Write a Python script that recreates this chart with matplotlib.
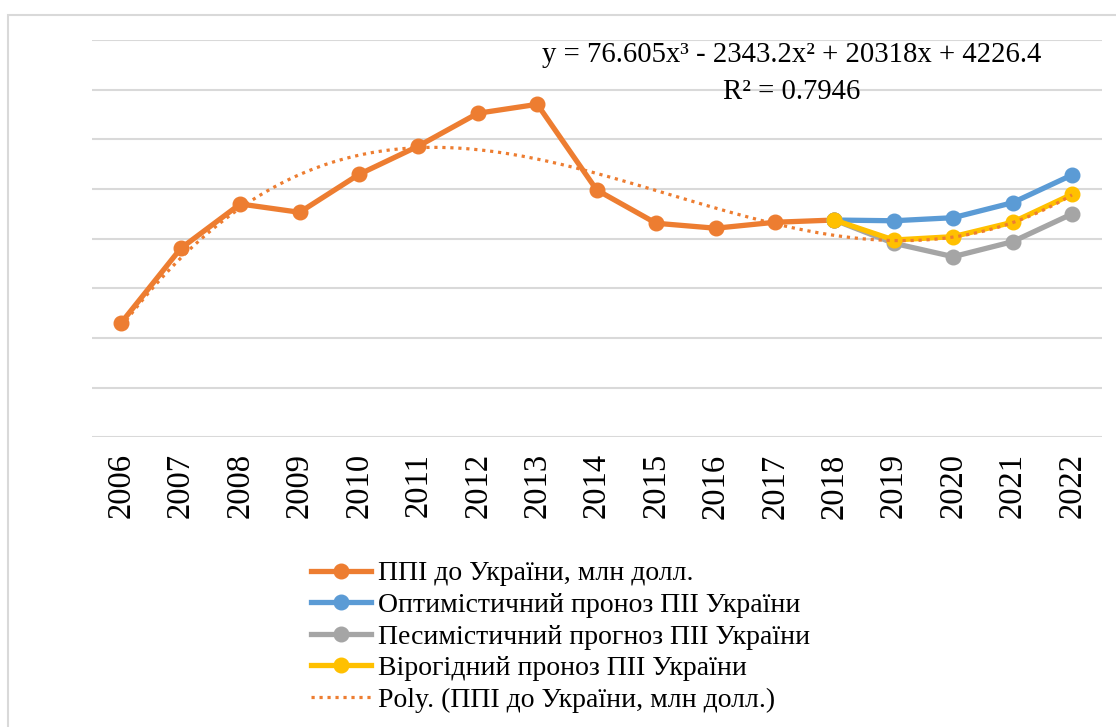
import matplotlib.pyplot as plt
from matplotlib.patches import Rectangle
import numpy as np

plt.rcParams['font.family'] = ['Liberation Serif', 'DejaVu Serif']

years = [str(y) for y in range(2006, 2023)]
fdi = [23100, 38050, 46980, 45300, 52950, 58650, 65250, 67050, 49800,
       43100, 42100, 43300, 43750]
optimistic = [43750, 43600, 44220, 47240, 52820]
pessimistic = [43750, 39070, 36370, 39390, 44970]
probable = [43750, 39730, 40400, 43300, 48930]
poly_coef = [76.605, -2343.2, 20318, 4226.4]  # from trendline label
labels = ["ППІ до України, млн долл.",
          "Оптимістичний проноз ПІІ України",
          "Песимістичний прогноз ПІІ України",
          "Вірогідний проноз ПІІ України",
          "Poly. (ППІ до України, млн долл.)"]

fig = plt.figure(figsize=(11.16, 7.27), dpi=100)
ax = fig.add_axes([91.7 / 1116, 1 - 437.3 / 727, 1010 / 1116, 397.3 / 727])

# outer chart border
fig.patches.append(Rectangle((8.3 / 1116, -0.1), 1.2, 1 - 15 / 727 + 0.1,
                             transform=fig.transFigure, fill=False,
                             edgecolor="#D9D9D9", lw=1.5))

x_all = np.arange(len(years))
x_fc = x_all[len(fdi) - 1:]
ms = 10.5
lw = 3.8
h1, = ax.plot(x_all[:len(fdi)], fdi, color="#ED7D31", lw=lw, marker="o", ms=ms, zorder=3)
h2, = ax.plot(x_fc, optimistic, color="#5B9BD5", lw=lw, marker="o", ms=ms, zorder=3)
h3, = ax.plot(x_fc, pessimistic, color="#A5A5A5", lw=lw, marker="o", ms=ms, zorder=3)
h4, = ax.plot(x_fc, probable, color="#FFC000", lw=lw, marker="o", ms=ms, zorder=3)

xs = np.linspace(1, len(years), 300)
h5, = ax.plot(xs - 1, np.polyval(poly_coef, xs), color="#ED7D31", lw=2.3,
              dashes=(1, 1.5), zorder=4)

ax.set_xlim(-0.5, len(years) - 0.5)
ax.set_ylim(0, 80000)
ax.set_yticks(np.arange(0, 80001, 10000))
ax.yaxis.grid(True, color="#D9D9D9", lw=1.5)
ax.set_axisbelow(True)
ax.tick_params(left=False, labelleft=False, bottom=False)
for s in ax.spines.values():
    s.set_visible(False)
ax.set_xticks(x_all)
ax.set_xticklabels(years, rotation=90, fontsize=23.5)
ax.tick_params(axis="x", pad=8)

fig.text(792 / 1116, 1 - 55 / 727, "y = 76.605x³ - 2343.2x² + 20318x + 4226.4",
         ha="center", va="center", fontsize=20.7)
fig.text(792 / 1116, 1 - 92 / 727, "R² = 0.7946", ha="center", va="center", fontsize=20.7)

fig.legend([h1, h2, h3, h4, h5], labels, loc="upper left",
           bbox_to_anchor=(311 / 1116, 1 - 561 / 727), frameon=False,
           fontsize=20, handlelength=2.16, handletextpad=0.25, labelspacing=0.22,
           borderaxespad=0, borderpad=0)

fig.savefig("out.png", dpi=100)
